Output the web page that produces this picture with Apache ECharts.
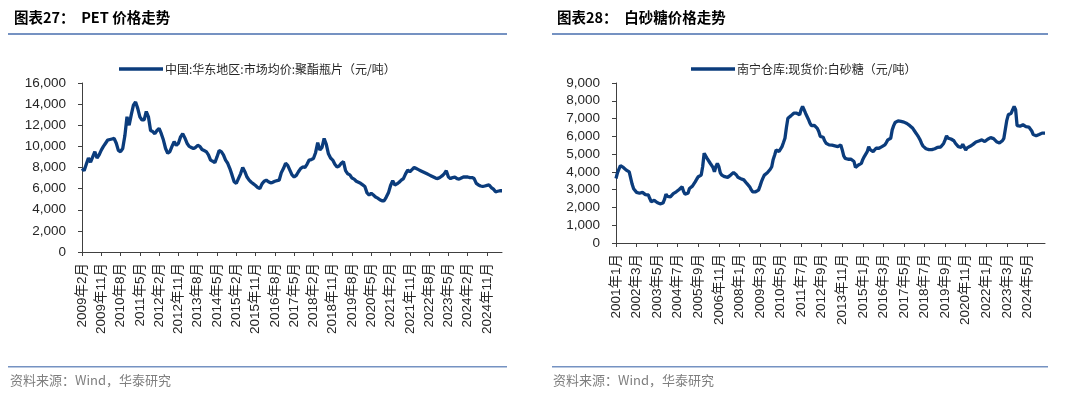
<!DOCTYPE html>
<html><head><meta charset="utf-8">
<script src="https://cdn.jsdelivr.net/npm/echarts@6/dist/echarts.min.js"></script>
<style>html,body{margin:0;padding:0;background:#fff}#c{width:1080px;height:397px}</style>
</head><body><div id="c"></div>
<script>
// ---------- data: PET (monthly, 2009-02 .. 2025-06) ----------
const petValues = [
7900,7700,8300,8900,8500,9000,9500,8900,9200,9650,
10000,10300,10600,10650,10700,10750,10300,9600,9500,9800,
11000,12800,12000,13000,13900,14200,13600,12800,12500,12500,
13300,12800,11500,11400,11200,11500,11700,11200,10600,9800,
9350,9500,10000,10450,10100,10300,10900,11200,10800,10300,
10000,9900,9800,9900,10100,10000,9700,9600,9500,9200,
8700,8600,8450,9000,9600,9500,9200,8700,8400,7900,
7300,6650,6500,6950,7400,8000,7600,7100,6800,6600,
6450,6300,6100,6000,6450,6700,6800,6650,6550,6600,
6700,6750,6800,7500,7900,8400,8200,7750,7300,7100,
7250,7600,7900,8050,8000,8300,8700,8750,8850,9400,
10350,9650,9900,10750,10200,9300,8900,8700,8300,8050,
8150,8400,8550,7700,7400,7300,7000,6900,6700,6600,
6500,6350,6200,5600,5400,5550,5400,5200,5100,4950,
4850,4850,5200,5600,6300,6750,6350,6450,6600,6800,
6950,7400,7750,7600,7800,8000,7900,7800,7700,7600,
7500,7400,7300,7200,7100,7000,6950,7050,7200,7400,
7700,7100,6950,7050,7100,6950,6900,7000,7100,7100,
7100,7050,7050,6950,6500,6350,6250,6200,6250,6300,
6350,6100,5950,5700,5750,5800,5800
];
const petStart = [2009, 2];
// ---------- data: Sugar (monthly, 2001-01 .. 2025-05) ----------
const sugarValues = [
3630,3950,4150,4350,4380,4250,4200,4100,4050,4000,
4100,3300,3050,2950,2850,2750,2800,2880,2850,2750,
2720,2700,2700,2500,2320,2380,2400,2330,2280,2260,
2200,2180,2250,2450,2750,2620,2540,2600,2690,2780,
2850,2880,2950,3010,3100,3160,2900,2750,2640,2800,
3070,3150,3200,3300,3450,3600,3730,3780,3820,4300,
5050,4900,4760,4650,4500,4480,4250,4010,4300,4480,
4290,3950,3820,3780,3730,3710,3690,3750,3820,3900,
3960,3900,3820,3700,3600,3620,3630,3550,3450,3350,
3250,3160,3000,2880,2880,2880,2900,2975,3200,3450,
3650,3820,3900,3950,4010,4150,4290,4700,4950,5235,
5200,5150,5250,5420,5650,5890,6500,7020,7100,7150,
7250,7300,7300,7300,7250,7210,7500,7680,7500,7300,
7210,6950,6740,6600,6590,6620,6650,6450,6270,6000,
5890,5950,5750,5610,5520,5520,5520,5500,5480,5460,
5440,5420,5480,5520,5235,4900,4760,4720,4710,4710,
4710,4650,4580,4250,4300,4390,4430,4480,4700,4860,
5000,5140,5420,5250,5140,5140,5250,5330,5330,5330,
5380,5420,5470,5520,5650,5800,5850,5890,6365,6600,
6780,6830,6870,6860,6840,6820,6800,6780,6720,6650,
6600,6590,6450,6365,6200,6080,5950,5800,5600,5450,
5400,5300,5270,5250,5235,5250,5270,5300,5330,5380,
5420,5400,5385,5600,5800,6030,5900,5800,5850,5890,
5750,5610,5500,5420,5400,5385,5555,5400,5235,5350,
5420,5440,5460,5550,5650,5680,5705,5740,5770,5800,
5750,5705,5780,5840,5900,5930,5950,5870,5800,5700,
5610,5630,5650,5750,5890,6400,6900,7210,7250,7300,
7500,7680,7500,6600,6550,6570,6600,6650,6600,6550,
6530,6520,6520,6300,6100,6080,6030,6030,6100,6150,
6180,6180,6180
];
const sugarStart = [2001, 1];
const petName = '中国:华东地区:市场均价:聚酯瓶片（元/吨）';
const sugarName = '南宁仓库:现货价:白砂糖（元/吨）';
const titleLeft = '图表27：  PET 价格走势';
const titleRight = '图表28：  白砂糖价格走势';
const sourceText = '资料来源：Wind，华泰研究';

function months(start, n) {
  const out = [];
  let y = start[0], m = start[1];
  for (let i = 0; i < n; i++) {
    out.push(y + '年' + m + '月');
    m++; if (m > 12) { m = 1; y++; }
  }
  return out;
}
const petCats = months(petStart, petValues.length);
const sugarCats = months(sugarStart, sugarValues.length);

const LINE = '#0b3c7c';
const AX = '#404040';
const TXT = '#262626';
const RULE = '#7592c2';
const fmt = v => v.toLocaleString('en-US');

function xAxis(gi, cats, interval) {
  return {
    type: 'category', gridIndex: gi, data: cats, boundaryGap: false,
    axisLine: { lineStyle: { color: AX, width: 1 } },
    axisTick: { interval: interval, length: 4, lineStyle: { color: AX } },
    axisLabel: { interval: interval, rotate: 90, fontSize: 13.5, color: TXT,
      fontFamily: 'Liberation Sans, Noto Sans CJK SC', margin: 11 }
  };
}
function yAxis(gi, max, interval) {
  return {
    type: 'value', gridIndex: gi, min: 0, max: max, interval: interval,
    splitLine: { show: false },
    axisLine: { show: true, lineStyle: { color: AX, width: 1 } },
    axisTick: { show: true, length: 4, lineStyle: { color: AX } },
    axisLabel: { fontSize: 13.5, color: TXT, fontFamily: 'Liberation Sans', formatter: fmt, margin: 16 }
  };
}

const chart = echarts.init(document.getElementById('c'), null, { renderer: 'canvas' });
chart.setOption({
  animation: false,
  title: [
    { text: titleLeft, left: 9, top: 5, textStyle: { fontSize: 14.5, fontWeight: 'bold', color: '#000', fontFamily: 'Noto Sans CJK SC' } },
    { text: titleRight, left: 552, top: 5, textStyle: { fontSize: 14.5, fontWeight: 'bold', color: '#000', fontFamily: 'Noto Sans CJK SC' } }
  ],
  legend: [
    { data: [petName], left: 114, top: 58, icon: 'rect', itemWidth: 44, itemHeight: 3.5, itemGap: 0,
      textStyle: { fontSize: 12, color: TXT, fontFamily: 'Noto Sans CJK SC', padding: [0, 0, 0, -3] } },
    { data: [sugarName], left: 686, top: 58, icon: 'rect', itemWidth: 44, itemHeight: 3.5, itemGap: 0,
      textStyle: { fontSize: 12, color: TXT, fontFamily: 'Noto Sans CJK SC', padding: [0, 0, 0, -3] } }
  ],
  grid: [
    { left: 82, top: 83, width: 420, height: 169 },
    { left: 616, top: 83, width: 429, height: 160 }
  ],
  xAxis: [xAxis(0, petCats, 8), xAxis(1, sugarCats, 13)],
  yAxis: [yAxis(0, 16000, 2000), yAxis(1, 9000, 1000)],
  series: [
    { name: petName, type: 'line', xAxisIndex: 0, yAxisIndex: 0, data: petValues, showSymbol: false,
      lineStyle: { color: LINE, width: 3.3 }, itemStyle: { color: LINE } },
    { name: sugarName, type: 'line', xAxisIndex: 1, yAxisIndex: 1, data: sugarValues, showSymbol: false,
      lineStyle: { color: LINE, width: 3.3 }, itemStyle: { color: LINE } }
  ],
  graphic: [
    { type: 'rect', shape: { x: 8, y: 33, width: 499, height: 2 }, style: { fill: RULE } },
    { type: 'rect', shape: { x: 552, y: 33, width: 496, height: 2 }, style: { fill: RULE } },
    { type: 'rect', shape: { x: 8, y: 366, width: 499, height: 1.5 }, style: { fill: RULE } },
    { type: 'rect', shape: { x: 552, y: 366, width: 496, height: 1.5 }, style: { fill: RULE } },
    { type: 'text', left: 10, top: 374, style: { text: sourceText, fill: '#7f7f7f', fontSize: 13, fontFamily: 'Noto Sans CJK SC' } },
    { type: 'text', left: 553, top: 374, style: { text: sourceText, fill: '#7f7f7f', fontSize: 13, fontFamily: 'Noto Sans CJK SC' } }
  ]
});
</script></body></html>
